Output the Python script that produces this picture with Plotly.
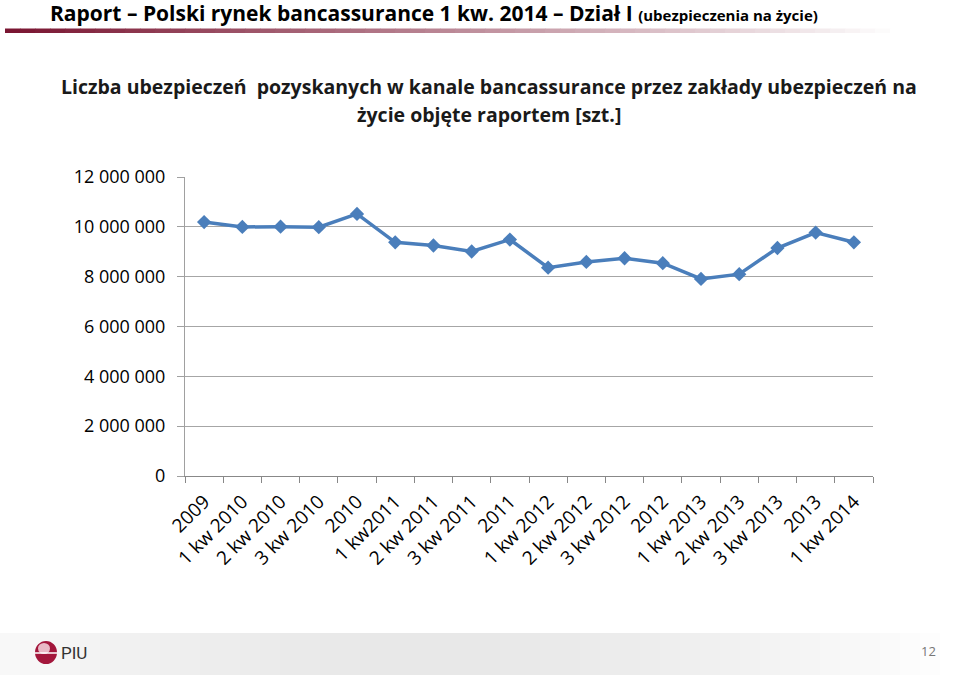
import plotly.graph_objects as go

categories = ["2009", "1 kw 2010", "2 kw 2010", "3 kw 2010", "2010", "1 kw2011", "2 kw 2011",
              "3 kw 2011", "2011", "1 kw 2012", "2 kw 2012", "3 kw 2012", "2012", "1 kw 2013",
              "2 kw 2013", "3 kw 2013", "2013", "1 kw 2014"]
policies = [10190000, 9995000, 10005000, 9985000, 10520000, 9380000, 9250000, 9010000, 9490000,
            8360000, 8590000, 8740000, 8540000, 7910000, 8100000, 9150000, 9770000, 9380000]
y_ticks = [0, 2000000, 4000000, 6000000, 8000000, 10000000, 12000000]
y_tick_labels = ["0", "2 000 000", "4 000 000", "6 000 000", "8 000 000", "10 000 000", "12 000 000"]

W, H = 960, 675
L, R, T, B = 185, 873, 177, 476

def px(x):
    return (x - L) / (R - L)

def py(y):
    return (B - y) / (B - T)

fig = go.Figure()
fig.add_trace(go.Scatter(
    x=categories, y=policies, mode="lines+markers",
    line=dict(color="#4a7ebb", width=3.5),
    marker=dict(symbol="diamond", size=11, color="#4a7ebb"),
    showlegend=False, hoverinfo="skip"))

shapes = []
# header gradient bar
n = 60
x0, x1 = 5, 905
c0 = (122, 22, 50)
for i in range(n):
    t = i / (n - 1)
    col = tuple(int(c0[k] + (255 - c0[k]) * t) for k in range(3))
    shapes.append(dict(type="rect", xref="paper", yref="paper",
                       x0=px(x0 + (x1 - x0) * i / n), x1=px(x0 + (x1 - x0) * (i + 1) / n + 0.5),
                       y0=py(33), y1=py(28.5), fillcolor="rgb(%d,%d,%d)" % col,
                       line=dict(width=0), layer="above"))
# footer gradient band
m = 48
for i in range(m):
    t = i / (m - 1)
    d = abs(t - 0.45) / 0.55
    g = int(232 + (255 - 232) * min(1, d ** 1.6))
    shapes.append(dict(type="rect", xref="paper", yref="paper",
                       x0=px(W * i / m), x1=px(W * (i + 1) / m + 0.5),
                       y0=py(675), y1=py(633), fillcolor="rgb(%d,%d,%d)" % (g, g, g),
                       line=dict(width=0), layer="below"))
# logo sphere
shapes.append(dict(type="circle", xref="paper", yref="paper",
                   x0=px(35), x1=px(57), y0=py(664), y1=py(641),
                   fillcolor="#a3173c", line=dict(width=0), layer="above"))
shapes.append(dict(type="circle", xref="paper", yref="paper",
                   x0=px(38), x1=px(50), y0=py(654), y1=py(643),
                   fillcolor="#e9b9c6", line=dict(width=0), layer="above"))
shapes.append(dict(type="line", xref="paper", yref="paper",
                   x0=px(35), x1=px(57), y0=py(653), y1=py(653),
                   line=dict(color="white", width=1.5), layer="above"))

annotations = [
    dict(text="<b>Raport – Polski rynek bancassurance 1 kw. 2014 – Dział I</b> <b><span style='font-size:15px'>(ubezpieczenia na życie)</span></b>",
         xref="paper", yref="paper", x=px(48), y=py(13), xanchor="left", yanchor="middle",
         showarrow=False, font=dict(family="Open Sans", size=21, color="#000000")),
    dict(text="<b>Liczba ubezpieczeń  pozyskanych w kanale bancassurance przez zakłady ubezpieczeń na</b>",
         xref="paper", yref="paper", x=px(489), y=py(86), xanchor="center", yanchor="middle",
         showarrow=False, font=dict(family="Open Sans", size=19.5, color="#1a1a1a")),
    dict(text="<b>życie objęte raportem [szt.]</b>",
         xref="paper", yref="paper", x=px(489), y=py(115), xanchor="center", yanchor="middle",
         showarrow=False, font=dict(family="Open Sans", size=19.5, color="#1a1a1a")),
    dict(text="PIU", xref="paper", yref="paper", x=px(59), y=py(653), xanchor="left", yanchor="middle",
         showarrow=False, font=dict(family="Liberation Sans Narrow, Roboto", size=17, color="#333333")),
    dict(text="12", xref="paper", yref="paper", x=px(938), y=py(651), xanchor="right", yanchor="middle",
         showarrow=False, font=dict(family="Open Sans", size=13, color="#777777")),
]

fig.update_layout(
    width=W, height=H,
    margin=dict(l=L, r=W - R, t=T, b=H - B, autoexpand=False),
    paper_bgcolor="white", plot_bgcolor="white",
    shapes=shapes, annotations=annotations,
    xaxis=dict(type="category", range=[-0.5, len(categories) - 0.5],
               tickson="boundaries", ticks="outside", ticklen=6,
               tickcolor="#888888", tickangle=-45, showgrid=False, showline=True,
               linecolor="#888888", linewidth=1, automargin=False, ticklabelstandoff=6,
               tickfont=dict(family="Open Sans", size=19, color="#000000")),
    yaxis=dict(range=[0, 12000000], tickvals=y_ticks, ticktext=y_tick_labels,
               ticks="outside", ticklen=7, tickcolor="#a0a0a0", showgrid=True,
               gridcolor="#a6a6a6", gridwidth=1.3, showline=True, linecolor="#a0a0a0",
               zeroline=False, ticklabelstandoff=8, automargin=False,
               tickfont=dict(family="Open Sans", size=18, color="#000000")),
)

fig.write_html("out.html")
